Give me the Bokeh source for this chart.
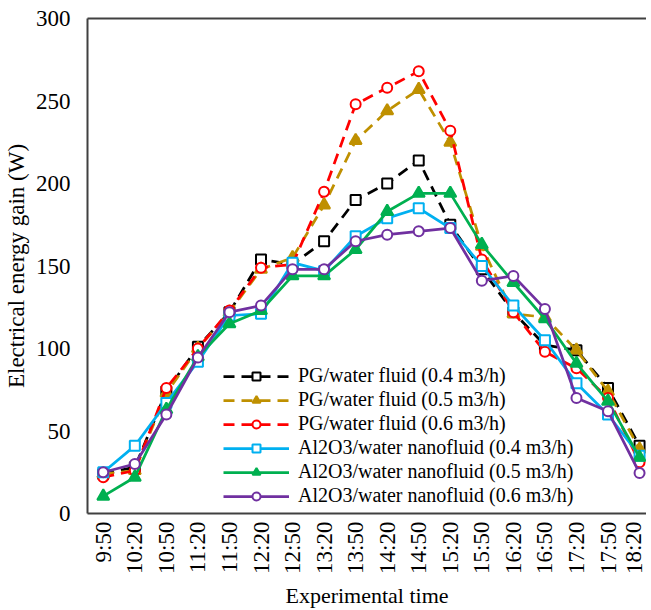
from bokeh.plotting import figure
from bokeh.models import Range1d, FixedTicker, LinearAxis, Legend, LegendItem
from bokeh.embed import file_html
from bokeh.resources import INLINE

times = ["9:50", "10:20", "10:50", "11:20", "11:50", "12:20", "12:50", "13:20", "13:50",
         "14:20", "14:50", "15:20", "15:50", "16:20", "16:50", "17:20", "17:50", "18:20"]

pg_04 = [24, 28, 74, 101, 122, 154, 151, 165, 190, 200, 214, 175, 148, 122, 102, 99, 76, 41]
pg_05 = [24, 26, 73, 100, 122, 148, 155, 187, 226, 244, 257, 225, 162, 121, 119, 99, 74, 39]
pg_06 = [22, 26, 76, 100, 123, 149, 151, 195, 248, 258, 268, 232, 154, 122, 98, 88, 70, 31]
al_04 = [25, 41, 67, 92, 120, 121, 152, 147, 168, 179, 185, 173, 150, 126, 105, 79, 60, 35]
al_05 = [10.5, 22, 63, 95, 115, 123, 144, 144, 160, 183, 194, 194, 163, 140, 118, 91, 68, 34]
al_06 = [25, 30, 60, 94.5, 122, 126, 148, 148, 165, 169, 171, 173, 141, 144, 124, 70, 62, 24.5]

labels = ["PG/water fluid (0.4 m3/h)", "PG/water fluid (0.5 m3/h)", "PG/water fluid (0.6 m3/h)",
          "Al2O3/water nanofluid (0.4 m3/h)", "Al2O3/water nanofluid (0.5 m3/h)",
          "Al2O3/water nanofluid (0.6 m3/h)"]

FONT = "Liberation Serif"
AXIS_COLOR = "#404040"

xs = list(range(len(times)))

p = figure(width=646, height=610, output_backend="svg", toolbar_location=None,
           x_range=Range1d(-0.5, 17.22), y_range=Range1d(0, 300),
           min_border_left=86, min_border_top=18, min_border_bottom=97, min_border_right=0)
p.outline_line_color = None
p.xgrid.visible = False
p.ygrid.visible = False
p.background_fill_color = "white"
p.border_fill_color = "white"

# x axis
xa = p.xaxis[0]
xa.ticker = FixedTicker(ticks=xs)
xa.major_label_overrides = {i: t for i, t in enumerate(times)}
xa.major_label_orientation = 1.5708
xa.axis_label = "Experimental time"
# y axis
ya = p.yaxis[0]
ya.ticker = FixedTicker(ticks=[0, 50, 100, 150, 200, 250, 300])
ya.axis_label = "Electrical energy gain (W)"

for ax in (xa, ya):
    ax.axis_line_color = AXIS_COLOR
    ax.axis_line_width = 2
    ax.major_tick_out = 0
    ax.major_tick_in = 0
    ax.minor_tick_out = 0
    ax.minor_tick_in = 0
    ax.major_label_text_font = FONT
    ax.major_label_text_font_size = "23px"
    ax.major_label_text_color = "black"
    ax.axis_label_text_font = FONT
    ax.axis_label_text_font_style = "normal"
    ax.axis_label_text_color = "black"
xa.axis_label_text_font_size = "22px"
ya.axis_label_text_font_size = "23px"
xa.major_label_standoff = 8
xa.axis_label_standoff = 6
ya.major_label_standoff = 17
ya.axis_label_standoff = 4

top = LinearAxis(ticker=FixedTicker(ticks=[]), axis_line_color=AXIS_COLOR, axis_line_width=2,
                 major_tick_out=0, major_tick_in=0, minor_tick_out=0, minor_tick_in=0,
                 major_label_text_font_size="0px", major_label_standoff=0)
p.add_layout(top, "above")

series = [
    (pg_04, "#000000", "11 7", "square", False),
    (pg_05, "#BF9000", "11 7", "triangle", True),
    (pg_06, "#FF0000", "11 7", "circle", False),
    (al_04, "#00B0F0", "solid", "square", False),
    (al_05, "#00B050", "solid", "triangle", True),
    (al_06, "#7030A0", "solid", "circle", False),
]

items = []
for (vals, color, dash, marker, filled), lab in zip(series, labels):
    lr = p.line(xs, vals, line_color=color, line_width=2.75, line_dash=dash)
    size = 12 if marker == "triangle" else 10
    sr = p.scatter(xs, vals, marker=marker, size=size, line_color=color, line_width=2,
                   fill_color=color if filled else "white")
    items.append(LegendItem(label=lab, renderers=[lr, sr]))

legend = Legend(items=items, location=(136, 6), padding=0, margin=0, spacing=1,
                glyph_height=20, glyph_width=66, label_height=20, label_standoff=9,
                label_text_font=FONT, label_text_font_size="20px", label_text_color="black",
                background_fill_alpha=0, border_line_color=None)
p.add_layout(legend)

open("out.html", "w").write(file_html(p, INLINE))
